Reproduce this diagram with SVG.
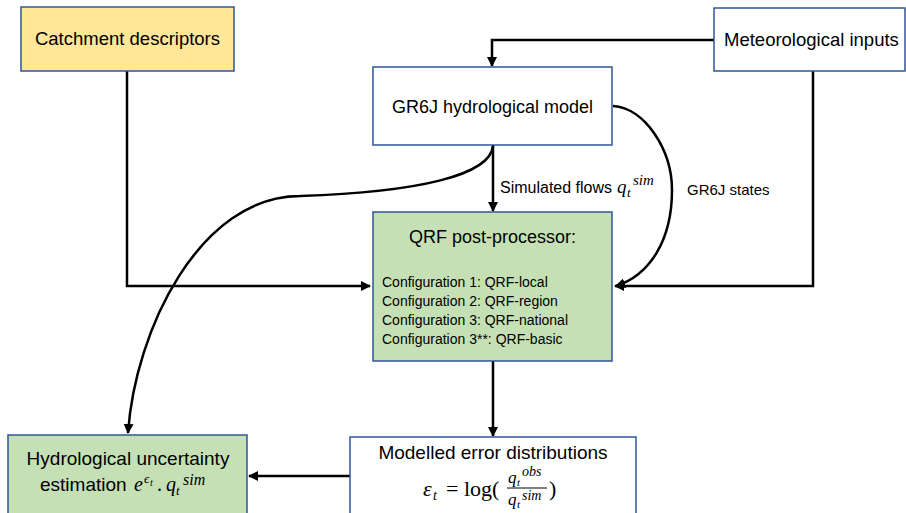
<svg xmlns="http://www.w3.org/2000/svg" width="906" height="513" viewBox="0 0 906 513">
<style>
.box{stroke:#2F5597;stroke-width:1.5}
.t{font-family:"Liberation Sans",Arial,sans-serif;fill:#000}
.m{font-family:"Liberation Serif","Times New Roman",serif;font-style:italic;fill:#000}
.mr{font-family:"Liberation Serif","Times New Roman",serif;fill:#000}
.c{fill:none;stroke:#000;stroke-width:2.5}
</style>
<defs>
<marker id="ah" viewBox="0 0 10 10" refX="9" refY="5" markerWidth="4" markerHeight="4" orient="auto" markerUnits="strokeWidth">
<path d="M0,0 L10,5 L0,10 z" fill="#000"/>
</marker>
</defs>
<rect width="906" height="513" fill="#fff"/>
<g id="connectors">
<path class="c" d="M127,71 V286 H370" marker-end="url(#ah)"/>
<path class="c" d="M714,40 H492 V66" marker-end="url(#ah)"/>
<path class="c" d="M813,71 V286 H615" marker-end="url(#ah)"/>
<path class="c" d="M493,145 V211" marker-end="url(#ah)"/>
<path class="c" d="M613,106 C645,108 672,150 672,190 C672,240 650,275 616,286" marker-end="url(#ah)"/>
<path class="c" d="M493,146 C490,175 420,192 300,196 C200,196 135,330 128,433" marker-end="url(#ah)"/>
<path class="c" d="M493,361 V436" marker-end="url(#ah)"/>
<path class="c" d="M350,476 H249" marker-end="url(#ah)"/>
<text class="t" x="500" y="193" font-size="16">Simulated flows</text>
<text class="m" x="617" y="193" font-size="19">q</text>
<text class="m" x="627" y="197" font-size="13">t</text>
<text class="m" x="633" y="185" font-size="15">sim</text>
<text class="t" x="687" y="195" font-size="15">GR6J states</text>
</g>
<g id="catchment">
<rect class="box" x="21" y="7" width="213" height="64" fill="#FFE699"/>
<text class="t" x="127.5" y="45" font-size="18.5" text-anchor="middle">Catchment descriptors</text>
</g>
<g id="meteo">
<rect class="box" x="714" y="8" width="191" height="63" fill="#fff"/>
<text class="t" x="724" y="46" font-size="18.5">Meteorological inputs</text>
</g>
<g id="gr6j">
<rect class="box" x="373" y="67" width="239" height="78" fill="#fff"/>
<text class="t" x="492.5" y="113" font-size="18" text-anchor="middle">GR6J hydrological model</text>
</g>
<g id="qrf">
<rect class="box" x="373" y="212" width="239" height="149" fill="#C5E0B4"/>
<text class="t" x="492.5" y="243" font-size="18" text-anchor="middle">QRF post-processor:</text>
<text class="t" x="382" y="287" font-size="14">Configuration 1: QRF-local</text>
<text class="t" x="382" y="306" font-size="14">Configuration 2: QRF-region</text>
<text class="t" x="382" y="325" font-size="14">Configuration 3: QRF-national</text>
<text class="t" x="382" y="344" font-size="14">Configuration 3**: QRF-basic</text>
</g>
<g id="modelled">
<rect class="box" x="350" y="437" width="286" height="80" fill="#fff"/>
<text class="t" x="493" y="459" font-size="19" text-anchor="middle">Modelled error distributions</text>
<text class="m" x="423" y="496" font-size="22">ε</text>
<text class="m" x="433" y="500" font-size="14">t</text>
<text class="mr" x="446" y="496" font-size="22">= log(</text>
<text class="m" x="508" y="483" font-size="17">q</text>
<text class="m" x="517" y="486" font-size="11">t</text>
<text class="m" x="522" y="476" font-size="14">obs</text>
<line x1="507" y1="488" x2="547" y2="488" stroke="#000" stroke-width="1"/>
<text class="m" x="508" y="505" font-size="17">q</text>
<text class="m" x="517" y="508" font-size="11">t</text>
<text class="m" x="522" y="500" font-size="14">sim</text>
<text class="mr" x="549" y="496" font-size="22">)</text>
</g>
<g id="hydro">
<rect class="box" x="8" y="435" width="239" height="82" fill="#C5E0B4"/>
<text class="t" x="128" y="465" font-size="19" text-anchor="middle">Hydrological uncertainty</text>
<text class="t" x="40" y="491" font-size="19">estimation</text>
<text class="m" x="134" y="491" font-size="20">e</text>
<text class="m" x="144" y="483" font-size="13">ϵ</text>
<text class="m" x="150" y="486" font-size="10">t</text>
<text class="mr" x="157" y="491" font-size="20">.</text>
<text class="m" x="166" y="491" font-size="20">q</text>
<text class="m" x="176" y="495" font-size="13">t</text>
<text class="m" x="183" y="485" font-size="16">sim</text>
</g>
</svg>
